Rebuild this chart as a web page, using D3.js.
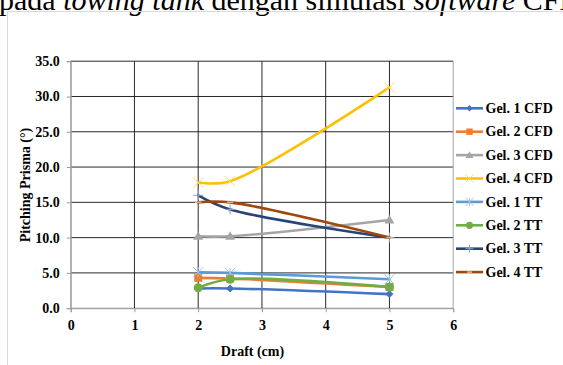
<!DOCTYPE html>
<html><head><meta charset="utf-8">
<script src="https://cdn.jsdelivr.net/npm/d3@7"></script>
<style>
html,body{margin:0;padding:0;background:#fff;overflow:hidden;}
svg{display:block;}
</style></head>
<body>
<svg id="c" width="563" height="365"></svg>
<script>
const drafts = [2, 2.5, 5];
const seriesNames = ["Gel. 1 CFD","Gel. 2 CFD","Gel. 3 CFD","Gel. 4 CFD","Gel. 1 TT","Gel. 2 TT","Gel. 3 TT","Gel. 4 TT"];
const gel1CFD = [2.8, 2.8, 2.0];
const gel2CFD = [4.3, 4.2, 3.0];
const gel3CFD = [10.2, 10.2, 12.5];
const gel4CFD = [17.8, 18.0, 31.3];
const gel1TT  = [5.1, 5.0, 4.1];
const gel2TT  = [2.9, 4.1, 3.0];
const gel3TT  = [16.0, 14.0, 10.0];
const gel4TT  = [15.0, 15.0, 10.0];
const seriesValues = [gel1CFD, gel2CFD, gel3CFD, gel4CFD, gel1TT, gel2TT, gel3TT, gel4TT];
const colors = ["#4472C4","#ED7D31","#A5A5A5","#FFC000","#5B9BD5","#70AD47","#264478","#9E480E"];
const markers = ["diamond","square","triangle","x","asterisk","circle","plus","dash"];
const xTicks = [0,1,2,3,4,5,6];
const yTicks = [0,5,10,15,20,25,30,35];

const svg = d3.select("#c");
const serif = "'Liberation Serif','Times New Roman',serif";

// document text above chart (cut off)
const headText = svg.append("text").attr("x", -1).attr("y", 10)
  .attr("font-family", serif).attr("font-size", 30).attr("fill", "#000");
headText.append("tspan").text("pada ");
headText.append("tspan").attr("font-style","italic").text("towing tank");
headText.append("tspan").text(" dengan simulasi ");
headText.append("tspan").attr("font-style","italic").text("software");
headText.append("tspan").text(" CFD");

// chart border
svg.append("rect").attr("x", 7.5).attr("y", 11.5).attr("width", 600).attr("height", 400)
  .attr("fill", "none").attr("stroke", "#d9d9d9").attr("stroke-width", 1);

const x = d3.scaleLinear().domain([0, 6]).range([70.7, 453.2]);
const y = d3.scaleLinear().domain([0, 35]).range([308.2, 61.2]);

// gridlines
const g = svg.append("g");
g.selectAll("line.h").data(yTicks).join("line")
  .attr("x1", x(0)).attr("x2", x(6)).attr("y1", d => y(d)).attr("y2", d => y(d))
  .attr("stroke", d => d === 0 ? "#9a9a9a" : "#111").attr("stroke-width", 0.9);
g.selectAll("line.v").data(xTicks).join("line")
  .attr("y1", y(0)).attr("y2", y(35)).attr("x1", d => x(d)).attr("x2", d => x(d))
  .attr("stroke", d => (d === 0 || d === 6) ? "#9a9a9a" : "#111").attr("stroke-width", 0.9);

// axes
const xAxis = d3.axisBottom(x).tickValues(xTicks).tickFormat(d3.format("d")).tickSize(4).tickPadding(8);
const yAxis = d3.axisLeft(y).tickValues(yTicks).tickFormat(d3.format(".1f")).tickSize(4).tickPadding(7);
const gx = svg.append("g").attr("transform", `translate(0,${y(0)})`).call(xAxis);
const gy = svg.append("g").attr("transform", `translate(${x(0)},0)`).call(yAxis);
[gx, gy].forEach(a => {
  a.select(".domain").attr("stroke", "#9a9a9a");
  a.selectAll(".tick line").attr("stroke", "#9a9a9a");
  a.selectAll("text").attr("font-family", serif).attr("font-weight", "bold")
    .attr("font-size", 14).attr("fill", "#000");
});

// axis titles
svg.append("text").attr("x", 252.5).attr("y", 355.5).attr("text-anchor", "middle")
  .attr("font-family", serif).attr("font-weight", "bold").attr("font-size", 14).text("Draft (cm)");
svg.append("text").attr("transform", "translate(30,185) rotate(-90)").attr("text-anchor", "middle")
  .attr("font-family", serif).attr("font-weight", "bold").attr("font-size", 14).text("Pitching Prisma (°)");

function lighten(c, k) { return d3.interpolateRgb(c, "#fff")(k); }

function drawMarker(sel, type, color, cx, cy, s) {
  const gg = sel.append("g").attr("transform", `translate(${cx},${cy})`);
  if (type === "diamond") {
    gg.append("path").attr("d", `M0,${-s}L${s},0L0,${s}L${-s},0Z`).attr("fill", color);
  } else if (type === "square") {
    gg.append("rect").attr("x", -s).attr("y", -s).attr("width", 2*s).attr("height", 2*s).attr("fill", color);
  } else if (type === "triangle") {
    gg.append("path").attr("d", `M0,${-s*1.1}L${s*1.1},${s*0.8}L${-s*1.1},${s*0.8}Z`).attr("fill", color);
  } else if (type === "circle") {
    gg.append("circle").attr("r", s).attr("fill", color);
  } else if (type === "x") {
    gg.append("path").attr("d", `M${-s},${-s}L${s},${s}M${-s},${s}L${s},${-s}`)
      .attr("stroke", lighten(color, 0.4)).attr("stroke-width", 1);
  } else if (type === "asterisk") {
    gg.append("path").attr("d", `M${-s},${-s}L${s},${s}M${-s},${s}L${s},${-s}M0,${-s}L0,${s}`)
      .attr("stroke", lighten(color, 0.4)).attr("stroke-width", 1);
  } else if (type === "plus") {
    gg.append("path").attr("d", `M0,${-s}L0,${s}M${-s},0L${s},0`)
      .attr("stroke", lighten(color, 0.5)).attr("stroke-width", 1);
  } else if (type === "dash") {
    gg.append("path").attr("d", `M${-s*0.8},0L${s*0.8},0`)
      .attr("stroke", lighten(color, 0.6)).attr("stroke-width", 1.5);
  }
}

const line = d3.line().x(d => x(d[0])).y(d => y(d[1])).curve(d3.curveCatmullRom.alpha(0.5));
const plot = svg.append("g");
const markSizes = {diamond:4, square:4, triangle:4.5, x:5, asterisk:5, circle:4.5, plus:5, dash:4};
seriesValues.forEach((vals, i) => {
  const pts = drafts.map((d, j) => [d, vals[j]]);
  plot.append("path").datum(pts).attr("d", line).attr("fill", "none")
    .attr("stroke", colors[i]).attr("stroke-width", 2.6).attr("stroke-linecap", "round");
  pts.forEach(p => drawMarker(plot, markers[i], colors[i], x(p[0]), y(p[1]), markSizes[markers[i]]));
});

// legend
const lg = svg.append("g");
seriesNames.forEach((name, i) => {
  const yy = 108.3 + i * 23.4;
  lg.append("line").attr("x1", 456).attr("x2", 483).attr("y1", yy).attr("y2", yy)
    .attr("stroke", colors[i]).attr("stroke-width", 2.6);
  drawMarker(lg, markers[i], colors[i], 469.5, yy, markSizes[markers[i]] * 0.8);
  lg.append("text").attr("x", 485.5).attr("y", yy + 4.6)
    .attr("font-family", serif).attr("font-weight", "bold").attr("font-size", 14).text(name);
});
</script>
</body></html>
